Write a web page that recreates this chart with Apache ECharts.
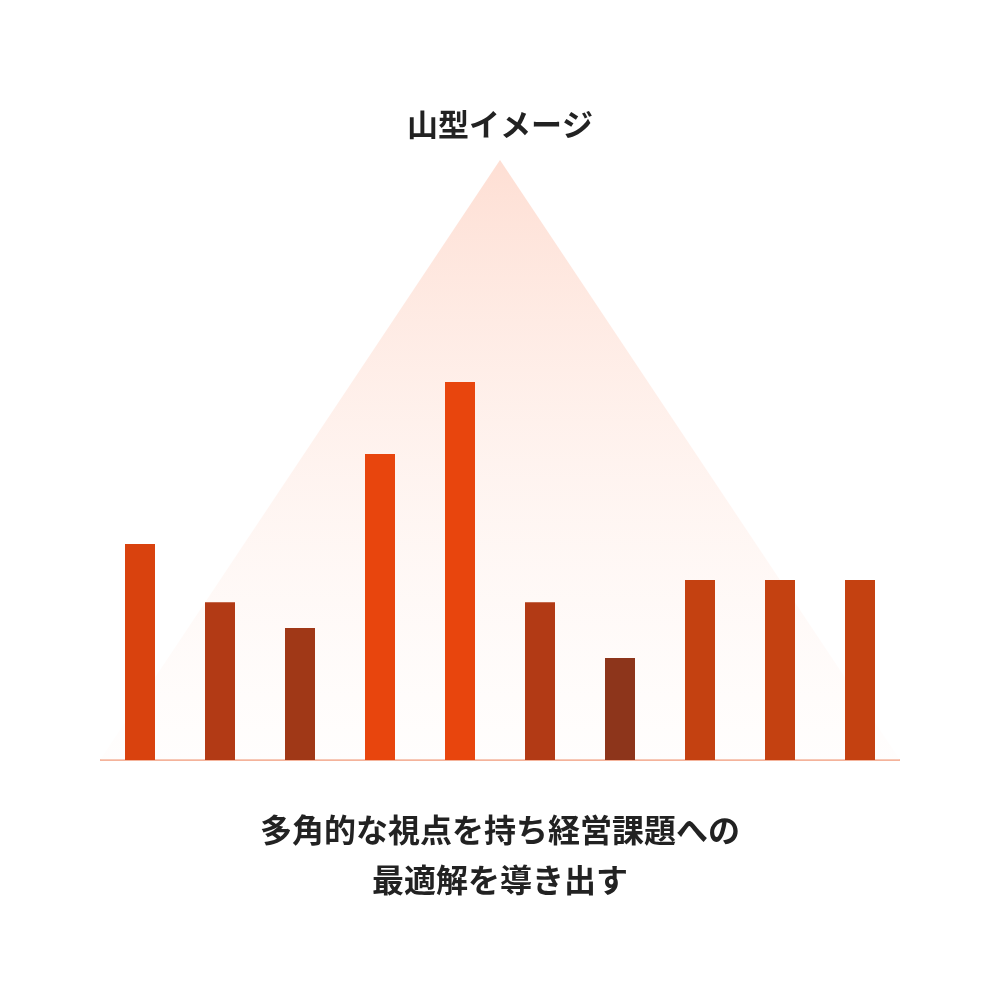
<!DOCTYPE html>
<html>
<head>
<meta charset="utf-8">
<script src="https://cdn.jsdelivr.net/npm/echarts@6/dist/echarts.min.js"></script>
<style>html,body{margin:0;padding:0;background:#fff;}#c{width:1000px;height:1000px;}</style>
</head>
<body>
<div id="c"></div>
<script>
const categories = ['1','2','3','4','5','6','7','8','9','10'];
const values = [36, 26.3, 22, 51, 63, 26.3, 17, 30, 30, 30];
const barColors = ['#d9420e','#b23a15','#a03817','#e8450d','#e8450d','#b23a15','#8d351b','#c44111','#c44111','#c44111'];
const mountainX = [0, 0.5, 1];
const mountainY = [0, 100, 0];
const titleText = '山型イメージ';
const captionText = '多角的な視点を持ち経営課題への\n最適解を導き出す';

const chart = echarts.init(document.getElementById('c'), null, {renderer:'canvas'});
chart.setOption({
  backgroundColor: '#ffffff',
  animation: false,
  title: [
    { text: titleText, left: 'center', top: 104,
      textStyle: { fontFamily: 'Noto Sans CJK JP', fontSize: 31, fontWeight: 'bold', color: '#222222' } },
    { text: captionText, left: 'center', top: 800,
      textStyle: { fontFamily: 'Noto Sans CJK JP', fontSize: 32, fontWeight: 'bold', color: '#222222', lineHeight: 50 } }
  ],
  grid: { left: 100, right: 100, top: 160, bottom: 240 },
  xAxis: [
    { type: 'category', data: categories, boundaryGap: true,
      axisLine: { show: true, lineStyle: { color: '#f4b39b', width: 2, cap: 'butt' } },
      axisTick: { show: false }, axisLabel: { show: false }, splitLine: { show: false } },
    { type: 'value', min: 0, max: 1, show: false }
  ],
  yAxis: { type: 'value', min: 0, max: 100, show: false, splitLine: { show: false } },
  series: [
    { type: 'line', xAxisIndex: 1, data: mountainX.map((x, i) => [x, mountainY[i]]),
      symbol: 'none', lineStyle: { width: 0 }, silent: true, z: 1,
      areaStyle: { opacity: 1, color: { type: 'linear', x: 0, y: 0, x2: 0, y2: 1,
        colorStops: [ { offset: 0, color: '#fedfd4' }, { offset: 1, color: 'rgba(255,250,248,0.3)' } ] } } },
    { type: 'bar', xAxisIndex: 0, barWidth: 30, z: 3,
      data: values.map((v, i) => ({ value: v, itemStyle: { color: barColors[i] } })) }
  ]
});
</script>
</body>
</html>
